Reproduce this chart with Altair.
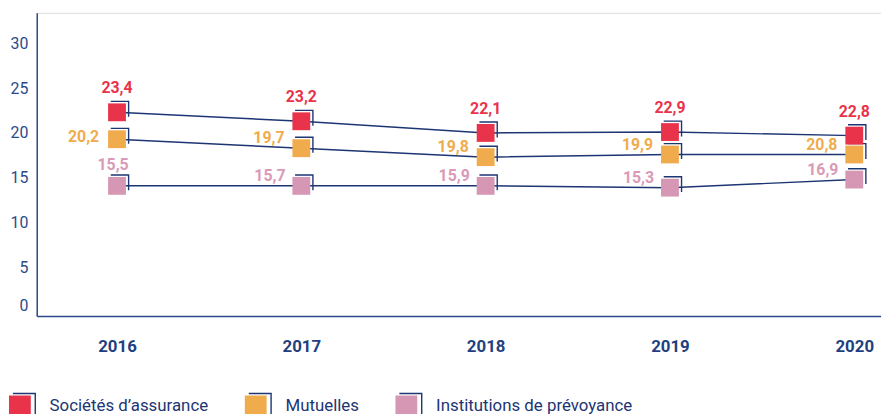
import altair as alt
import pandas as pd

# ---------------- data ----------------
years = [2016, 2017, 2018, 2019, 2020]
series_names = ["Sociétés d’assurance", "Mutuelles", "Institutions de prévoyance"]

# marker positions as drawn in the picture
societes = [22.3, 21.3, 20.0, 20.1, 19.7]
mutuelles = [19.3, 18.3, 17.3, 17.6, 17.6]
institutions = [14.1, 14.1, 14.1, 13.9, 14.8]

# printed value labels
societes_lbl = ["23,4", "23,2", "22,1", "22,9", "22,8"]
mutuelles_lbl = ["20,2", "19,7", "19,8", "19,9", "20,8"]
institutions_lbl = ["15,5", "15,7", "15,9", "15,3", "16,9"]

y_ticks = [0, 5, 10, 15, 20, 25, 30]
colors = ["#e8334b", "#f0ac4c", "#d697b5"]
label_colors = ["#e8334b", "#f0ac4c", "#d99ab8"]

NAVY = "#1c3573"
AXIS = "#2b4a8a"
FONT = "Roboto"
# bracket drawn up-right of each marker
BRACKET = "M-0.7,-1.22H1.3V0.5"
# legend symbol: filled square + offset bracket (only the bracket is stroked, via dash)
LEGEND_SYMBOL = "M-0.64,-1.18H1.41V0.8V-1.18H-0.64V-1H1V1H-1V-1H-0.64Z"

rows = []
for name, vals, lbls in zip(series_names,
                            [societes, mutuelles, institutions],
                            [societes_lbl, mutuelles_lbl, institutions_lbl]):
    for yr, v, l in zip(years, vals, lbls):
        rows.append({"year": yr, "value": v, "label": l, "series": name})
df = pd.DataFrame(rows)

x_enc = alt.X(
    "year:Q",
    scale=alt.Scale(domain=[2015.5645, 2020.145], nice=False, zero=False),
    axis=alt.Axis(
        values=years, format="d", title=None, grid=False, ticks=False,
        domainColor=AXIS, domainWidth=1.5,
        labelFont=FONT, labelFontSize=17, labelFontWeight="bold",
        labelColor="#1f3f80", labelBaseline="middle", labelPadding=31,
    ),
)
y_enc = alt.Y(
    "value:Q",
    scale=alt.Scale(domain=[-0.41, 33.39], nice=False, zero=False),
    axis=alt.Axis(
        values=y_ticks, title=None, grid=False, ticks=False,
        domainColor=AXIS, domainWidth=1.5,
        labelFont=FONT, labelFontSize=16, labelColor=AXIS, labelPadding=9,
        labelOffset={"condition": {"test": "datum.value === 0", "value": -7}, "value": 0},
    ),
)

base = alt.Chart(df).encode(x=x_enc, y=y_enc)

lines = base.mark_line(color=NAVY, strokeWidth=1.5).encode(detail="series:N")

brackets = base.mark_point(
    shape=BRACKET, filled=False, stroke=NAVY, strokeWidth=1.4, size=324, opacity=1
).encode(detail="series:N")

squares = base.mark_square(size=324, opacity=1).encode(
    color=alt.Color(
        "series:N",
        scale=alt.Scale(domain=series_names, range=colors),
        legend=alt.Legend(
            title=None, orient="none", legendX=-29, legendY=385,
            direction="horizontal", symbolType=LEGEND_SYMBOL, symbolSize=484,
            symbolStrokeColor=NAVY, symbolStrokeWidth=1.4,
            symbolDash=[44.3, 1000], symbolOpacity=1,
            labelColor=NAVY, labelFont=FONT, labelFontSize=17, labelLimit=400,
            labelOffset=18, columnPadding=33, padding=0, offset=0,
        ),
    )
)

# (series, year filter, colour, align, dx, dy)
text_specs = [
    (series_names[0], None, label_colors[0], "center", 0, -24),
    (series_names[1], "first", label_colors[1], "right", -18, -2),
    (series_names[1], "rest", label_colors[1], "right", -17, -10),
    (series_names[2], "first", label_colors[2], "center", -4, -21),
    (series_names[2], "rest", label_colors[2], "right", -16, -10),
]
texts = []
for name, part, col, al, dx, dy in text_specs:
    t = base.transform_filter(alt.datum.series == name)
    if part == "first":
        t = t.transform_filter(alt.datum.year == years[0])
    elif part == "rest":
        t = t.transform_filter(alt.datum.year != years[0])
    texts.append(
        t.mark_text(
            color=col, align=al, dx=dx, dy=dy, baseline="middle",
            font=FONT, fontSize=16, fontWeight="bold",
        ).encode(text="label:N")
    )

chart = alt.layer(lines, brackets, squares, *texts).properties(
    width=852, height=306,
    padding={"left": 29, "top": 3, "right": 0, "bottom": 97},
    autosize="none",
).configure_view(stroke=None).configure(background="white")

chart.save("out.html", embed_options={"renderer": "svg", "actions": False})
